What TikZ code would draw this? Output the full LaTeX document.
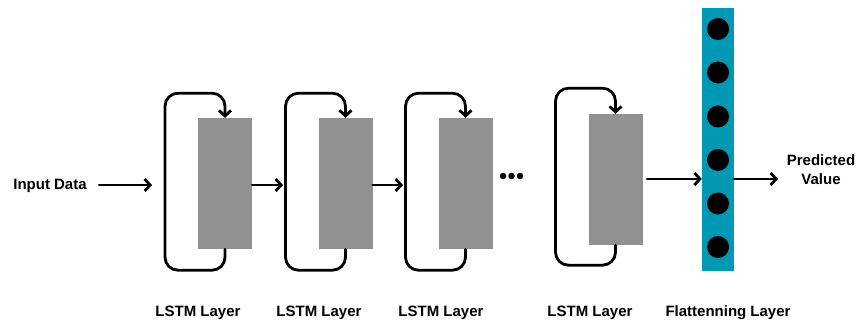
\documentclass[tikz,border=0pt]{standalone}
\usepackage{fontspec}
\setmainfont{Liberation Sans}
\usepackage{xcolor}
\usetikzlibrary{arrows.meta, positioning}

\definecolor{cellgray}{RGB}{145,145,145}
\definecolor{flatteal}{RGB}{0,152,178}

\begin{document}
\begin{tikzpicture}[
    x=1pt, y=-1pt,
    every node/.style={font=\fontsize{15}{19}\selectfont\bfseries},
    % Component styles
    cell/.style={rectangle, fill=cellgray, minimum width=54pt, minimum height=131pt, inner sep=0pt},
    flatbar/.style={rectangle, fill=flatteal, minimum width=32pt, minimum height=263pt, inner sep=0pt},
    unit/.style={circle, fill=black, minimum size=22pt, inner sep=0pt},
    ellip/.style={circle, fill=black, minimum size=6.5pt, inner sep=0pt},
    % Arrow styles
    flow/.style={-{Straight Barb[length=5.5pt,width=12pt]}, line width=2.8pt, line cap=round},
    recur/.style={flow, rounded corners=13pt},
    % Labels
    layerlabel/.style={anchor=center}
]
\useasboundingbox (0,0) rectangle (856,328);

% LSTM cells
\node[cell] (lstm1) at (225,183.5) {};
\node[cell] (lstm2) at (345.5,183.5) {};
\node[cell] (lstm3) at (465.5,183.5) {};
\node[cell] (lstm4) at (615.5,179.5) {};

% Flattening layer
\node[flatbar] (flat) at (718,139.5) {};
\node[unit] (u1) at (718,29) {};
\node[unit] (u2) at (718,72.5) {};
\node[unit] (u3) at (718,116.5) {};
\node[unit] (u4) at (718,160) {};
\node[unit] (u5) at (718,203.5) {};
\node[unit] (u6) at (718,247) {};

% Input / output
\node (input) at (50,186) {Input Data};
\node[align=center] (output) at (821,170) {Predicted\\Value};

% Skipped layers
\node[ellip] (e1) at (503,176) {};
\node[ellip] (e2) at (511.5,176) {};
\node[ellip] (e3) at (520,176) {};

% Where the arrows meet the loops
\coordinate (in1) at (152,185);
\coordinate (in2) at (283,185);
\coordinate (in3) at (403,185);
\coordinate (out4) at (647,179);
\coordinate (outv) at (778,179);

% Recurrent loops
\draw[recur] (lstm1.south) -- ++(0,21) -| ++(-60,-177) -| (lstm1.north);
\draw[recur] (lstm2.south) -- ++(0,21) -| ++(-60,-177) -| (lstm2.north);
\draw[recur] (lstm3.south) -- ++(0,21) -| ++(-60,-177) -| (lstm3.north);
\draw[recur] (lstm4.south) -- ++(0,20) -| ++(-60,-177) -| (lstm4.north);

% Forward flow
\draw[flow] ([xshift=9pt]input.east |- in1) -- (in1);
\draw[flow] (lstm1.east |- in2) -- (in2);
\draw[flow] (lstm2.east |- in3) -- (in3);
\draw[flow] (out4) -- (flat.west |- out4);
\draw[flow] (flat.east |- outv) -- (outv);

% Layer names
\node[layerlabel] at (198,313) {LSTM Layer};
\node[layerlabel] at (319,313) {LSTM Layer};
\node[layerlabel] at (441,313) {LSTM Layer};
\node[layerlabel] at (590,313) {LSTM Layer};
\node[layerlabel] at (728,313) {Flattenning Layer};

\end{tikzpicture}
\end{document}
